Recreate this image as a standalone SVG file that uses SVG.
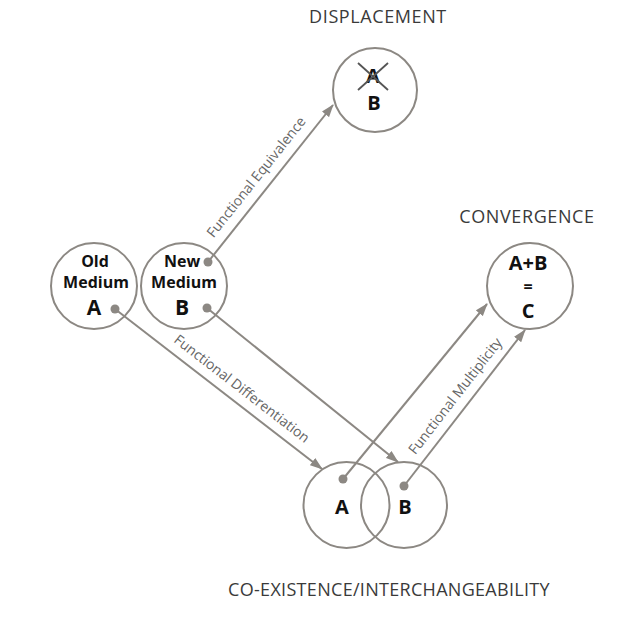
<svg xmlns="http://www.w3.org/2000/svg" width="630" height="619" viewBox="0 0 630 619">
<style>
.ring{fill:none;stroke:#8c8883;stroke-width:2}
.con{fill:none;stroke:#8c8883;stroke-width:2}
.dot{fill:#8c8883}
.title{font-family:"Open Sans","Liberation Sans",sans-serif;font-size:18px;fill:#3a3a3a;letter-spacing:0.6px}
.node{font-family:"Open Sans","Liberation Sans",sans-serif;font-weight:bold;fill:#111;text-anchor:middle}
.lbl{font-family:"Open Sans","Liberation Sans",sans-serif;font-size:14px;fill:#666;text-anchor:middle}
</style>
<defs>
<marker id="arr" markerUnits="userSpaceOnUse" markerWidth="13" markerHeight="10" refX="12" refY="5" orient="auto">
<path d="M0,0.5 L13,5 L0,9.5 z" fill="#8c8883"/>
</marker>
</defs>
<rect width="630" height="619" fill="#fff"/>

<g id="connectors">
<line class="con" x1="208" y1="262" x2="333" y2="105" marker-end="url(#arr)"/>
<line class="con" x1="115" y1="309" x2="322" y2="469" marker-end="url(#arr)"/>
<line class="con" x1="207" y1="308" x2="398" y2="462" marker-end="url(#arr)"/>
<line class="con" x1="343" y1="479" x2="487" y2="304" marker-end="url(#arr)"/>
<line class="con" x1="404" y1="486" x2="525" y2="330" marker-end="url(#arr)"/>
<circle class="dot" cx="208" cy="262" r="4.5"/>
<circle class="dot" cx="115" cy="309" r="4.5"/>
<circle class="dot" cx="207" cy="308" r="4.5"/>
<circle class="dot" cx="343" cy="479" r="4.5"/>
<circle class="dot" cx="404" cy="486" r="4.5"/>
<text class="lbl" transform="translate(260,180) rotate(-51.5)">Functional Equivalence</text>
<text class="lbl" transform="translate(239,392.5) rotate(37.7)">Functional Differentiation</text>
<text class="lbl" transform="translate(459,399) rotate(-52.2)">Functional Multiplicity</text>
</g>

<g id="old-medium">
<circle class="ring" cx="94" cy="286" r="43"/>
<text class="node" font-size="16"><tspan x="95" y="267">Old</tspan><tspan x="96" y="288">Medium</tspan><tspan x="94" y="315" font-size="21">A</tspan></text>
</g>

<g id="new-medium">
<circle class="ring" cx="184" cy="286" r="43"/>
<text class="node" font-size="16"><tspan x="182" y="267">New</tspan><tspan x="184" y="288">Medium</tspan><tspan x="182" y="315" font-size="21">B</tspan></text>
</g>

<g id="displacement">
<text class="title" x="378" y="23" text-anchor="middle">DISPLACEMENT</text>
<circle class="ring" cx="375" cy="90" r="42"/>
<text class="node" font-size="20"><tspan x="373" y="83">A</tspan><tspan x="374" y="110">B</tspan></text>
<line x1="358" y1="63" x2="388" y2="90" stroke="#555" stroke-width="1.8"/>
<line x1="388" y1="63" x2="358" y2="90" stroke="#555" stroke-width="1.8"/>
</g>

<g id="convergence">
<text class="title" x="527" y="223" text-anchor="middle">CONVERGENCE</text>
<circle class="ring" cx="530" cy="286" r="43"/>
<text class="node" font-size="20"><tspan x="528" y="270">A+B</tspan><tspan x="528" y="292" font-size="16">=</tspan><tspan x="528" y="318">C</tspan></text>
</g>

<g id="coexistence">
<circle class="ring" cx="346.5" cy="505" r="43"/>
<circle class="ring" cx="404" cy="505" r="43"/>
<text class="node" x="342" y="514" font-size="20">A</text>
<text class="node" x="405" y="514" font-size="20">B</text>
<text class="title" x="389" y="596" text-anchor="middle" style="letter-spacing:0.3px">CO-EXISTENCE/INTERCHANGEABILITY</text>
</g>
</svg>
